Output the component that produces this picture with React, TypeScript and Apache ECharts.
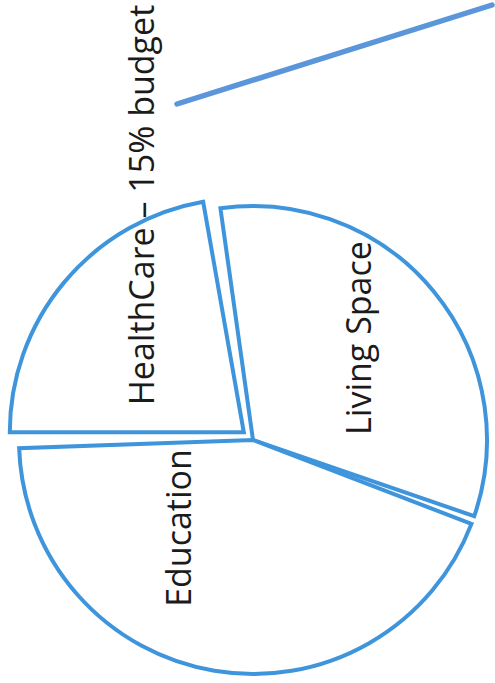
import React, { useEffect, useRef } from "react";
import * as echarts from "echarts";

const categories = ["HealthCare", "Living Space", "Education"];
const values = [82, 119, 159];
const labelTexts = ["HealthCare – 15% budget", "Living Space", "Education"];
const explodedIndex = 0;

// label anchor positions (layout only)
const labelPos: [number, number][] = [
  [141, 205],
  [358, 338],
  [178, 528],
];

export default function App() {
  const ref = useRef<HTMLDivElement>(null);
  useEffect(() => {
    if (!ref.current) return;
    const chart = echarts.init(ref.current, null, { renderer: "svg" });
    const blue = "#3f95dc";
    chart.setOption({
      animation: false,
      backgroundColor: "#ffffff",
      series: [
        {
          type: "pie",
          z: 1,
          center: [253, 440],
          radius: 234,
          startAngle: 181,
          clockwise: true,
          padAngle: 2,
          selectedMode: "multiple",
          selectedOffset: 12,
          emphasis: { disabled: true },
          itemStyle: {
            color: "#ffffff",
            borderColor: blue,
            borderWidth: 4,
            borderJoin: "miter",
          },
          label: { show: false },
          labelLine: { show: false },
          data: categories.map((name, i) => ({
            name,
            value: values[i],
            selected: i === explodedIndex,
          })),
        },
      ],
      graphic: [
        {
          type: "line",
          z: 100,
          shape: { x1: 177, y1: 104, x2: 492, y2: 5 },
          style: { stroke: "#5a96d9", lineWidth: 5.5, lineCap: "round" },
        },
        ...labelTexts.map((t, i) => ({
          type: "text",
          z: 100,
          x: labelPos[i][0],
          y: labelPos[i][1],
          rotation: Math.PI / 2,
          style: {
            text: t,
            fontFamily: "Open Sans",
            fontSize: 34,
            fill: "#1b1b1b",
            align: "center",
            verticalAlign: "middle",
          },
        })),
      ],
    });
    return () => chart.dispose();
  }, []);
  return (
    <div
      ref={ref}
      style={{ position: "absolute", left: 0, top: 0, width: 495, height: 683, background: "#fff" }}
    />
  );
}
